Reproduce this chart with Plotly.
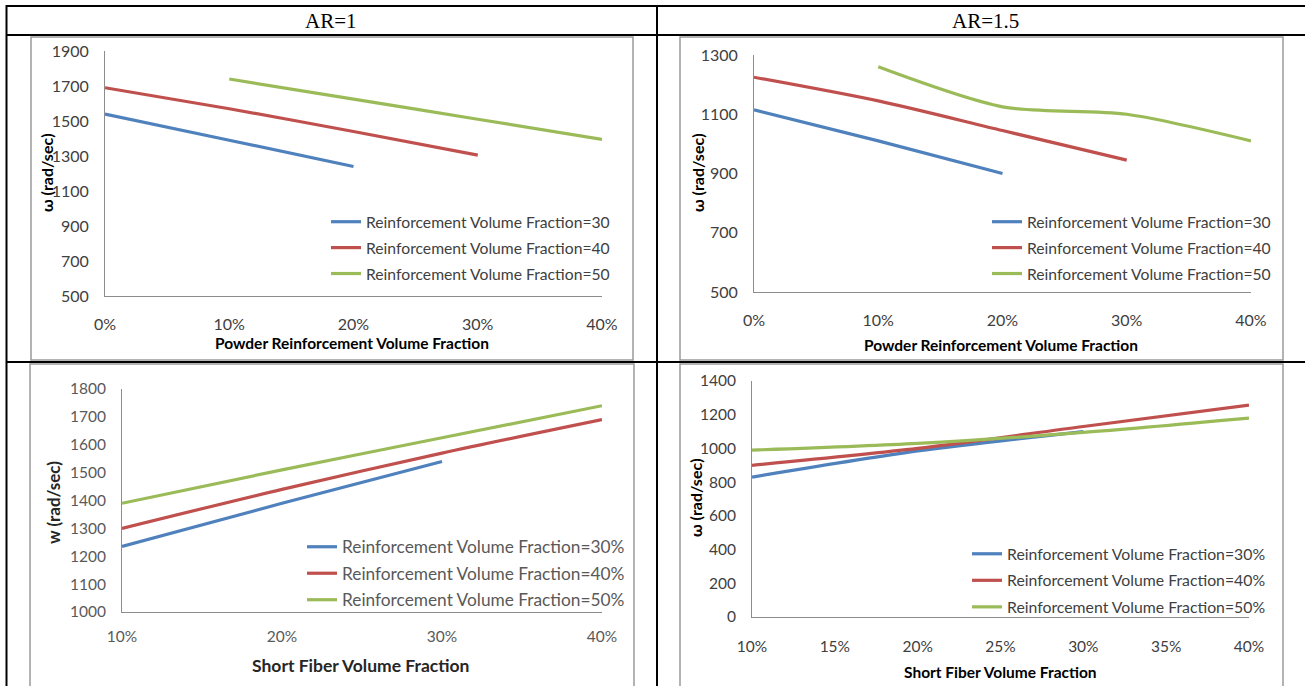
import plotly.graph_objects as go

# ---- data -----------------------------------------------------------------
series_names_a = ["Reinforcement Volume Fraction=30",
                  "Reinforcement Volume Fraction=40",
                  "Reinforcement Volume Fraction=50"]
series_names_b = ["Reinforcement Volume Fraction=30%",
                  "Reinforcement Volume Fraction=40%",
                  "Reinforcement Volume Fraction=50%"]
colors = ["#4F81BD", "#C0504D", "#9BBB59"]

# AR=1, natural frequency vs powder volume fraction
ar1_powder_x = [[0.0, 0.1, 0.2], [0.0, 0.1, 0.2, 0.3], [0.1, 0.2, 0.3, 0.4]]
ar1_powder_y = [[1540, 1390, 1240], [1690, 1570, 1440, 1305], [1740, 1625, 1510, 1395]]

# AR=1.5, natural frequency vs powder volume fraction
ar15_powder_x = [[0.0, 0.1, 0.2], [0.0, 0.1, 0.2, 0.3], [0.1, 0.2, 0.3, 0.4]]
ar15_powder_y = [[1115, 1010, 900], [1225, 1145, 1045, 945], [1260, 1125, 1100, 1010]]

# AR=1, natural frequency vs short fiber volume fraction
ar1_fiber_x = [[0.1, 0.2, 0.3], [0.1, 0.2, 0.3, 0.4], [0.1, 0.2, 0.3, 0.4]]
ar1_fiber_y = [[1235, 1390, 1540], [1300, 1440, 1570, 1690], [1390, 1510, 1625, 1740]]

# AR=1.5, natural frequency vs short fiber volume fraction
ar15_fiber_x = [[0.1, 0.2, 0.3], [0.1, 0.2, 0.3, 0.4], [0.1, 0.2, 0.3, 0.4]]
ar15_fiber_y = [[830, 985, 1100], [900, 1000, 1130, 1257], [990, 1030, 1095, 1180]]

header_labels = ["AR=1", "AR=1.5"]

# ---- page geometry (pixels) ------------------------------------------------
W, H = 1305, 686


def X(px):
    return px / W


def Y(py):
    return 1 - py / H


font = "Lato, Carlito, Calibri, sans-serif"
dark = "#404040"
soft = "#595959"

fig = go.Figure()

panels = [
    # (xs, ys, names, axis suffix, legend id)
    (ar1_powder_x, ar1_powder_y, series_names_a, "", "legend"),
    (ar15_powder_x, ar15_powder_y, series_names_a, "2", "legend2"),
    (ar1_fiber_x, ar1_fiber_y, series_names_b, "3", "legend3"),
    (ar15_fiber_x, ar15_fiber_y, series_names_b, "4", "legend4"),
]

for xs, ys, names, sfx, leg in panels:
    for i in range(3):
        fig.add_trace(go.Scatter(
            x=xs[i], y=ys[i], name=names[i], mode="lines",
            line=dict(color=colors[i], width=3.2, shape="spline", smoothing=0.8),
            xaxis="x" + sfx, yaxis="y" + sfx, legend=leg,
            legendgroup=leg + str(i), showlegend=True,
        ))


def xaxis(px0, px1, rng, dtick, tick0, size, col, standoff, anchor):
    return dict(domain=[X(px0), X(px1)], range=rng, dtick=dtick, tick0=tick0,
                tickformat=".0%", showline=True, linecolor="#8c8c8c", linewidth=1,
                showgrid=False, zeroline=False, ticks="", anchor=anchor,
                ticklabelstandoff=standoff,
                tickfont=dict(family=font, size=size, color=col))


def yaxis(py0, py1, rng, dtick, tick0, size, col, standoff, anchor):
    return dict(domain=[Y(py1), Y(py0)], range=rng, dtick=dtick, tick0=tick0,
                showline=True, linecolor="#8c8c8c", linewidth=1,
                showgrid=False, zeroline=False, ticks="", anchor=anchor,
                ticklabelstandoff=standoff,
                tickfont=dict(family=font, size=size, color=col))


def legend(px, py, size, col, gap):
    return dict(x=X(px), y=Y(py), xanchor="left", yanchor="top",
                bgcolor="rgba(0,0,0,0)", borderwidth=0, tracegroupgap=gap,
                font=dict(family=font, size=size, color=col), itemwidth=30)


fig.update_layout(
    width=W, height=H, autosize=False,
    margin=dict(l=0, r=0, t=0, b=0, autoexpand=False),
    paper_bgcolor="white", plot_bgcolor="white",
    xaxis=xaxis(105, 602, [0, 0.4], 0.1, 0, 16, dark, 14, "y"),
    yaxis=yaxis(51, 296, [500, 1900], 200, 500, 16, dark, 12, "x"),
    xaxis2=xaxis(754, 1251, [0, 0.4], 0.1, 0, 16, dark, 14, "y2"),
    yaxis2=yaxis(55, 292, [500, 1300], 200, 500, 16, dark, 12, "x2"),
    xaxis3=xaxis(122, 602, [0.1, 0.4], 0.1, 0, 15.5, soft, 10, "y3"),
    yaxis3=yaxis(389, 612, [1000, 1800], 100, 0, 15.5, soft, 12, "x3"),
    xaxis4=xaxis(752, 1249, [0.1, 0.4], 0.05, 0, 15.5, dark, 15, "y4"),
    yaxis4=yaxis(381, 617, [0, 1400], 200, 0, 15.5, dark, 12, "x4"),
    legend=legend(326, 205, 15.7, dark, 2.5),
    legend2=legend(987, 205, 15.7, dark, 2.5),
    legend3=legend(302, 529, 17.3, soft, 1),
    legend4=legend(967, 537, 15.8, dark, 3),
    showlegend=True,
)

# ---- table rules and chart frames -----------------------------------------
shapes = []
black = dict(color="black", width=2)
shapes.append(dict(type="line", xref="paper", yref="paper", x0=X(6), x1=X(1305), y0=Y(6), y1=Y(6), line=black))
shapes.append(dict(type="line", xref="paper", yref="paper", x0=X(6), x1=X(1305), y0=Y(35), y1=Y(35), line=black))
shapes.append(dict(type="line", xref="paper", yref="paper", x0=X(6), x1=X(1305), y0=Y(362), y1=Y(362), line=black))
shapes.append(dict(type="line", xref="paper", yref="paper", x0=X(6.5), x1=X(6.5), y0=Y(5), y1=Y(686), line=black))
shapes.append(dict(type="line", xref="paper", yref="paper", x0=X(657), x1=X(657), y0=Y(5), y1=Y(686), line=black))

frame = dict(color="#9a9a9a", width=1.5)
for x0, x1, y0, y1 in [(31, 633, 37, 360), (680, 1283, 37, 360),
                       (30, 634, 364, 690), (680, 1283, 364, 690)]:
    shapes.append(dict(type="rect", xref="paper", yref="paper", layer="below",
                       x0=X(x0), x1=X(x1), y0=Y(y1), y1=Y(y0), line=frame,
                       fillcolor="rgba(0,0,0,0)"))
fig.update_layout(shapes=shapes)

# ---- headers and axis titles ----------------------------------------------
ann = []
for label, cx in zip(header_labels, [331, 985]):
    ann.append(dict(text=label, x=X(cx), y=Y(20.5), xref="paper", yref="paper",
                    showarrow=False, xanchor="center", yanchor="middle",
                    font=dict(family="Liberation Serif, Times New Roman, serif", size=21, color="black")))

titles = [
    ("<b>Powder Reinforcement Volume Fraction</b>", 352, 343, 0, 15.5, "black"),
    ("<b>Powder Reinforcement Volume Fraction</b>", 1001, 345, 0, 15.5, "black"),
    ("<b>Short Fiber Volume Fraction</b>", 360, 665, 0, 17.5, "#262626"),
    ("<b>Short Fiber Volume Fraction</b>", 1000, 672, 0, 15.5, "black"),
    ("<b>ω (rad/sec)</b>", 46, 173, -90, 16, "black"),
    ("<b>ω (rad/sec)</b>", 697, 173, -90, 16, "black"),
    ("<b>w (rad/sec)</b>", 53, 502, -90, 17, "#262626"),
    ("<b>ω (rad/sec)</b>", 695, 498, -90, 16, "black"),
]
for text, cx, cy, ang, size, col in titles:
    ann.append(dict(text=text, x=X(cx), y=Y(cy), xref="paper", yref="paper",
                    showarrow=False, xanchor="center", yanchor="middle", textangle=ang,
                    font=dict(family=font, size=size, color=col)))
fig.update_layout(annotations=ann)

fig.write_html("out.html")
